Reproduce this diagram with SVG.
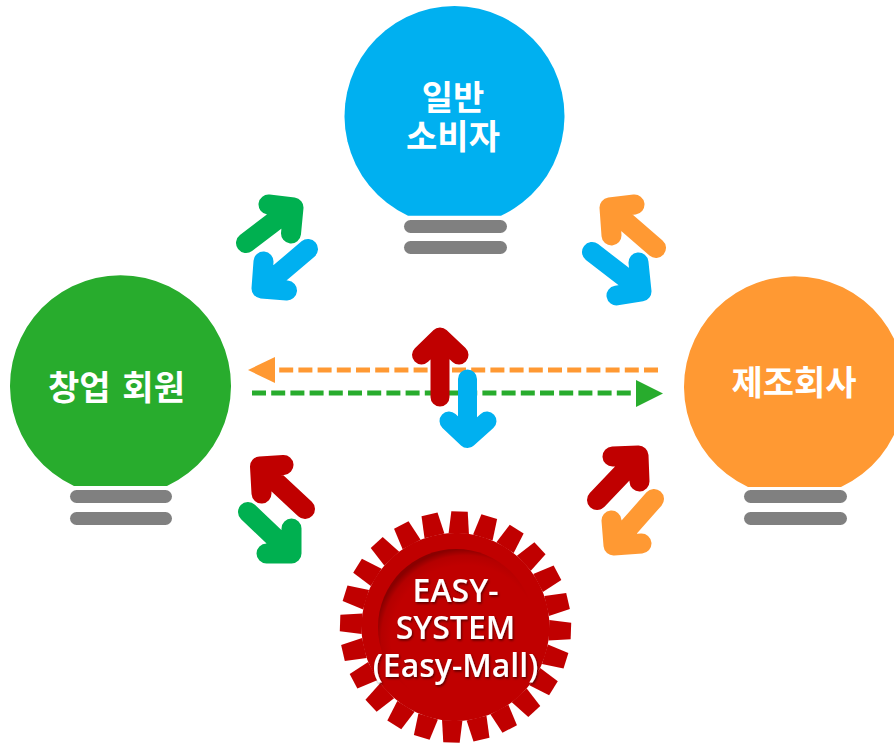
<svg xmlns="http://www.w3.org/2000/svg" width="894" height="745" viewBox="0 0 894 745">
<style>
.bar{fill:#808080}
.ko{font-family:"Noto Sans CJK KR","Noto Sans",sans-serif;font-weight:700;font-size:34px;fill:#fff;text-anchor:middle}
.en{font-family:"Open Sans","Liberation Sans",sans-serif;font-weight:600;font-size:32px;fill:#fff;text-anchor:middle;filter:url(#ts)}
.ar{fill:none;stroke-width:20;stroke-linecap:round;stroke-linejoin:round}
.dash{fill:none;stroke-width:5;stroke-dasharray:14 5.2}
</style>
<defs>
<polygon id="tooth" points="-10.200,-93.500 -8.200,-115.500 8.200,-115.500 10.200,-93.500" fill="#C00000"/>
<radialGradient id="rec" cx="0.56" cy="0.58" r="0.58">
<stop offset="0.82" stop-color="#C00000"/>
<stop offset="0.93" stop-color="#B40000"/>
<stop offset="1" stop-color="#8A0000"/>
</radialGradient>
<filter id="ts" x="-10%" y="-20%" width="120%" height="150%">
<feDropShadow dx="1" dy="1.5" stdDeviation="1.2" flood-color="#000" flood-opacity="0.55"/>
</filter>
</defs>

<g id="node-consumer">
<path d="M408 215.700A110 110 0 1 1 501 215.700Z" fill="#00B0F0"/>
<rect class="bar" x="404" y="220" width="103" height="13" rx="6.500"/>
<rect class="bar" x="404" y="241" width="103" height="13" rx="6.500"/>
<text class="ko" x="453" y="110">일반</text>
<text class="ko" x="453" y="149">소비자</text>
</g>

<g id="node-member">
<path d="M74 486A110.500 110.500 0 1 1 167 486Z" fill="#28AC2D"/>
<rect class="bar" x="70" y="490" width="102" height="13" rx="6.500"/>
<rect class="bar" x="70" y="512" width="102" height="13" rx="6.500"/>
<text class="ko" x="116.500" y="400" word-spacing="4">창업 회원</text>
</g>

<g id="node-maker">
<path d="M748 487A110.500 110.500 0 1 1 841 487Z" fill="#FF9933"/>
<rect class="bar" x="744" y="490" width="103" height="13" rx="6.500"/>
<rect class="bar" x="744" y="512" width="103" height="13" rx="6.500"/>
<text class="ko" x="794" y="395">제조회사</text>
</g>

<g id="node-system">
<g transform="translate(455.500 627) rotate(2)">
<circle r="94" fill="#C00000"/>
<use href="#tooth"/>
<use href="#tooth" transform="rotate(15)"/>
<use href="#tooth" transform="rotate(30)"/>
<use href="#tooth" transform="rotate(45)"/>
<use href="#tooth" transform="rotate(60)"/>
<use href="#tooth" transform="rotate(75)"/>
<use href="#tooth" transform="rotate(90)"/>
<use href="#tooth" transform="rotate(105)"/>
<use href="#tooth" transform="rotate(120)"/>
<use href="#tooth" transform="rotate(135)"/>
<use href="#tooth" transform="rotate(150)"/>
<use href="#tooth" transform="rotate(165)"/>
<use href="#tooth" transform="rotate(180)"/>
<use href="#tooth" transform="rotate(195)"/>
<use href="#tooth" transform="rotate(210)"/>
<use href="#tooth" transform="rotate(225)"/>
<use href="#tooth" transform="rotate(240)"/>
<use href="#tooth" transform="rotate(255)"/>
<use href="#tooth" transform="rotate(270)"/>
<use href="#tooth" transform="rotate(285)"/>
<use href="#tooth" transform="rotate(300)"/>
<use href="#tooth" transform="rotate(315)"/>
<use href="#tooth" transform="rotate(330)"/>
<use href="#tooth" transform="rotate(345)"/>
</g>
<circle cx="456" cy="627" r="78" fill="url(#rec)"/>
<text class="en" x="455.500" y="602">EASY-</text>
<text class="en" x="455.500" y="639">SYSTEM</text>
<text class="en" x="455.500" y="677">(Easy-Mall)</text>
</g>

<g id="connectors">
<path class="dash" stroke="#FF9933" d="M658 370H279"/>
<polygon points="248,370 275,357 275,383" fill="#FF9933"/>
<path class="dash" stroke="#28AC2D" d="M252 393H631"/>
<polygon points="663,393.500 636,380 636,407" fill="#28AC2D"/>

<path class="ar" stroke="#C00000" stroke-width="19" style="stroke-width:19" d="M440 397V337M421.500 355L440 337L459 355"/>
<path class="ar" stroke="#00B0F0" style="stroke-width:19" d="M467.500 379V438.500M449 421L467.500 438.500L487 421"/>

<path class="ar" stroke="#00B050" d="M246 243L292 208M268.500 204.500L293.500 207.500L291 233.500"/>
<path class="ar" stroke="#00B0F0" d="M308 249L262 288M263.500 261.500L261.500 288.500L287 290.500"/>

<path class="ar" stroke="#FF9933" d="M656 248L611 209M634.500 204.500L609.500 207.500L611.500 235.500"/>
<path class="ar" stroke="#00B0F0" d="M592 252L640 289M638.500 262.500L641.500 291.500L616.500 295.500"/>

<path class="ar" stroke="#C00000" d="M305 509L261 468M283.500 465L260 466.500L261.500 493.500"/>
<path class="ar" stroke="#00B050" d="M248 512L290 552M291.500 528.500V553.500H266.500"/>

<path class="ar" stroke="#C00000" d="M597 500L638 457M612.500 456.500L638.500 455.500L639.500 481.500"/>
<path class="ar" stroke="#FF9933" d="M654 499L615 543M611.500 520.500L613.500 545.500L641.500 543.500"/>
</g>
</svg>
